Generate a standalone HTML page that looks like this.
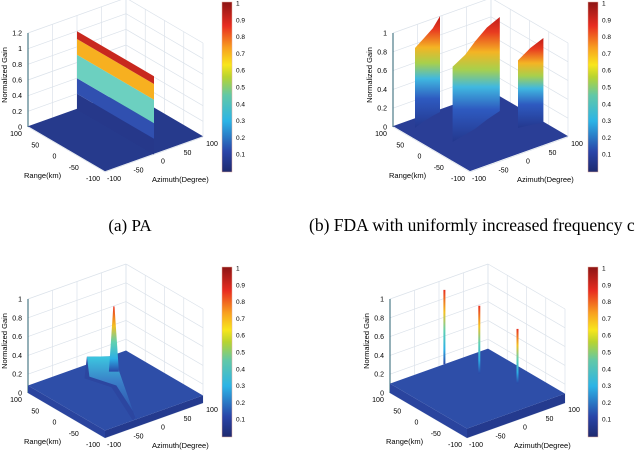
<!DOCTYPE html>
<html><head><meta charset="utf-8"><style>
html,body{margin:0;padding:0;background:#fff;}
svg{display:block;font-family:"Liberation Sans",sans-serif;}
</style></head><body>
<svg id="fig" width="640" height="454" viewBox="0 0 640 454" xmlns="http://www.w3.org/2000/svg">
<defs>
<linearGradient id="jet" x1="0" y1="1" x2="0" y2="0">
<stop offset="0" stop-color="#1f2a6e"/><stop offset="0.12" stop-color="#2a44a8"/><stop offset="0.3" stop-color="#2cb4e6"/><stop offset="0.45" stop-color="#62c8a8"/><stop offset="0.56" stop-color="#b8d430"/><stop offset="0.63" stop-color="#f8e61c"/><stop offset="0.73" stop-color="#f8a020"/><stop offset="0.86" stop-color="#e82c20"/><stop offset="1" stop-color="#8c1414"/>
</linearGradient>
<linearGradient id="wallg" x1="0" y1="0" x2="0" y2="1">
<stop offset="0" stop-color="#c01c18"/><stop offset="0.12" stop-color="#e83a20"/><stop offset="0.28" stop-color="#f4b424"/><stop offset="0.42" stop-color="#a8d04c"/><stop offset="0.56" stop-color="#40b8e0"/><stop offset="0.74" stop-color="#2e5ac0"/><stop offset="1" stop-color="#24388e"/>
</linearGradient>
<linearGradient id="spikeg" x1="0" y1="0" x2="0" y2="1">
<stop offset="0" stop-color="#e83020"/><stop offset="0.3" stop-color="#f4c020"/><stop offset="0.55" stop-color="#60d0b0"/><stop offset="0.8" stop-color="#2cb0e6"/><stop offset="1" stop-color="#2a48a8"/>
</linearGradient>
<linearGradient id="ridgeg" x1="0" y1="0" x2="0" y2="1">
<stop offset="0" stop-color="#3cc8e0"/><stop offset="0.4" stop-color="#3a80c8"/><stop offset="1" stop-color="#2c4aa8"/>
</linearGradient>
</defs>
<g id="root"></g>
<text x="130" y="231" font-family="Liberation Serif,serif" font-size="17" text-anchor="middle">(a)  PA</text>
<text x="309" y="231" font-family="Liberation Serif,serif" font-size="17.5">(b)  FDA with uniformly increased frequency c</text>
</svg>
<script>
const rangeTicks=[100,50,0,-50,-100];
const azTicks=[-100,-50,0,50,100];
const zTicksA=[0,0.2,0.4,0.6,0.8,1,1.2];
const zTicks=[0,0.2,0.4,0.6,0.8,1];
const cbTicks=[0.1,0.2,0.3,0.4,0.5,0.6,0.7,0.8,0.9,1];
const paBands=[0,0.2,0.4,0.7,0.9,1.0];
const paColors=['#26388a','#3050b0','#6cd0c0','#f7b020','#c8281e'];
const fdaWall1=[[76,-74,0.85],[85,-50,0.88],[92,-25,0.93],[95,-8,1.02]];
const fdaWall2=[[0,-57,0.8],[8,-25,0.85],[14,0,0.93],[28,35,0.98],[39,70,1.0]];
const fdaWall3=[[-26,56,0.72],[-30,78,0.82],[-36,100,0.9]];
const ridgeR=[64,13,-100];
const ridgeA=[-8,7,-38];
const ridgeH=[0.3,0.4,0.1];
const peakR=[13];
const peakA=[7];
const peakH=[0.93];
const spikeR=[100,40,-25];
const spikeA=[11,35,62];
const spikeH=[0.89,0.82,0.68];
const NS='http://www.w3.org/2000/svg';
const root=document.getElementById('root');
function mk(tag,attrs,parent){const e=document.createElementNS(NS,tag);for(const k in attrs)e.setAttribute(k,attrs[k]);(parent||root).appendChild(e);return e;}
function panel(id,Lx,Ly,zmax,zt,cbx,cby){
  const g=mk('g',{});
  
  
  const zs=94/zmax;
  const P=(r,a,z)=>{const u=(100-r)/200,v=(a+100)/200;return [Lx+77*u+98*v,Ly+45*u-35*v-z*zs];};
  const pt=p=>p[0].toFixed(1)+','+p[1].toFixed(1);
  const line=(p,q,c,w,name)=>{const l=mk('line',{x1:p[0],y1:p[1],x2:q[0],y2:q[1],stroke:c,'stroke-width':w},g);return l;};
  const grid='#dbe2ea';
  azTicks.forEach(a=>line(P(100,a,0),P(100,a,zmax),grid,0.7,'grid-line'));
  rangeTicks.forEach(r=>line(P(r,100,0),P(r,100,zmax),grid,0.7,'grid-line'));
  zt.forEach(z=>{line(P(100,-100,z),P(100,100,z),grid,0.7,'grid-line');line(P(100,100,z),P(-100,100,z),grid,0.7,'grid-line');});
  rangeTicks.forEach(r=>line(P(r,-100,0),P(r,100,0),grid,0.7,'grid-line'));
  azTicks.forEach(a=>line(P(100,a,0),P(-100,a,0),grid,0.7,'grid-line'));
  line(P(100,-100,0),P(100,-100,zmax),'#2a6070',1,'z-axis');
  zt.forEach(z=>{const p=P(100,-100,z);const t=mk('text',{x:p[0]-6,y:p[1]+2.5,'font-size':7,'text-anchor':'end'},g);t.textContent=z;});
  rangeTicks.forEach(r=>{const p=P(r,-100,0);const t=mk('text',{x:p[0]-12,y:p[1]+9,'font-size':7,'text-anchor':'middle'},g);t.textContent=r;});
  azTicks.forEach(a=>{const p=P(-100,a,0);const t=mk('text',{x:p[0]+9,y:p[1]+9,'font-size':7,'text-anchor':'middle'},g);t.textContent=a;});
  let t=mk('text',{x:Lx-4,y:Ly+51,'font-size':7.5},g);t.textContent='Range(km)';
  t=mk('text',{x:Lx+124,y:Ly+55,'font-size':7.5},g);t.textContent='Azimuth(Degree)';
  t=mk('text',{x:0,y:0,'font-size':7.5,'text-anchor':'middle',transform:`translate(${Lx-21},${Ly-52}) rotate(-90)`},g);t.textContent='Normalized Gain';
  const cb=mk('rect',{x:cbx,y:cby-1,width:10,height:170,fill:'url(#jet)',stroke:'#e8b0a0','stroke-width':0.5},g);
  
  cbTicks.forEach(v=>{const y=cby+168-v*168;const tt=mk('text',{x:cbx+14,y:y+2.5,'font-size':6.5},g);tt.textContent=v;});
  return {g,P,pt};
}
function poly(g,pts,fill,name,extra){const p=mk('polygon',Object.assign({points:pts.join(' '),fill:fill},extra||{}),g);return p;}

(function(){const {g,P,pt}=panel('a',28,127,1.2,zTicksA,222,3);
  poly(g,[P(100,-100,0.01),P(-100,-100,0.01),P(-100,100,0.01),P(100,100,0.01)].map(pt),'#263a8c','floor-surface');
  for(let i=0;i<paColors.length;i++){poly(g,[P(100,0,paBands[i]),P(-100,0,paBands[i]),P(-100,0,paBands[i+1]),P(100,0,paBands[i+1])].map(pt),paColors[i],'gain-band');}
})();
(function(){const {g,P,pt}=panel('b',393,127,1,zTicks,588,3);
  poly(g,[P(100,-100,0.01),P(-100,-100,0.01),P(-100,100,0.01),P(100,100,0.01)].map(pt),'#2a3e96','floor-surface');
  [fdaWall1,fdaWall2,fdaWall3].forEach(w=>{
    const top=w.map(d=>pt(P(d[0],d[1],d[2])));
    const bot=w.slice().reverse().map(d=>pt(P(d[0],d[1],0)));
    poly(g,top.concat(bot),'url(#wallg)','gain-wall');
  });
})();
(function(){const {g,P,pt}=panel('c',28,393,1,zTicks,222,268);
  poly(g,[P(-100,-100,0),P(-100,-100,0.08),P(-100,100,0.08),P(-100,100,0)].map(pt),'#243a8e','slab-front');
  poly(g,[P(100,-100,0),P(100,-100,0.08),P(-100,-100,0.08),P(-100,-100,0)].map(pt),'#2a449e','slab-side');
  poly(g,[P(100,-100,0.08),P(-100,-100,0.08),P(-100,100,0.08),P(100,100,0.08)].map(pt),'#2e4ea8','slab-top');
  const rp=ridgeR.map((r,i)=>P(r,ridgeA[i],ridgeH[i]));
  const rb=ridgeR.map((r,i)=>P(r,ridgeA[i]+5,0.08));
  const lb=ridgeR.map((r,i)=>P(r,ridgeA[i]-5,0.08));
  poly(g,lb.map(pt).concat(rp.slice().reverse().map(pt)),'#2c46a0','ridge-left');
  poly(g,rp.map(pt).concat(rb.slice().reverse().map(pt)),'url(#ridgeg)','ridge-right');
  peakR.forEach((r,i)=>{const b=P(r,peakA[i],0.3),t=P(r,peakA[i],peakH[i]);
    poly(g,[pt([b[0]-5,b[1]+6]),pt([t[0]-0.6,t[1]]),pt([t[0]+0.6,t[1]]),pt([b[0]+5,b[1]+6])],'url(#spikeg)','main-peak');});
})();
(function(){const {g,P,pt}=panel('d',390,393,1,zTicks,588,268);
  poly(g,[P(-100,-100,0),P(-100,-100,0.1),P(-100,100,0.1),P(-100,100,0)].map(pt),'#243a8e','slab-front');
  poly(g,[P(100,-100,0),P(100,-100,0.1),P(-100,-100,0.1),P(-100,-100,0)].map(pt),'#2a449e','slab-side');
  poly(g,[P(100,-100,0.1),P(-100,-100,0.1),P(-100,100,0.1),P(100,100,0.1)].map(pt),'#2e4ea8','slab-top');
  spikeR.forEach((r,i)=>{const b=P(r,spikeA[i],0.1),t=P(r,spikeA[i],spikeH[i]);
    poly(g,[pt([b[0]-1,b[1]]),pt([t[0]-1,t[1]]),pt([t[0]+1,t[1]]),pt([b[0]+1,b[1]])],'url(#spikeg)','gain-spike');});
})();
</script>
</body></html>
